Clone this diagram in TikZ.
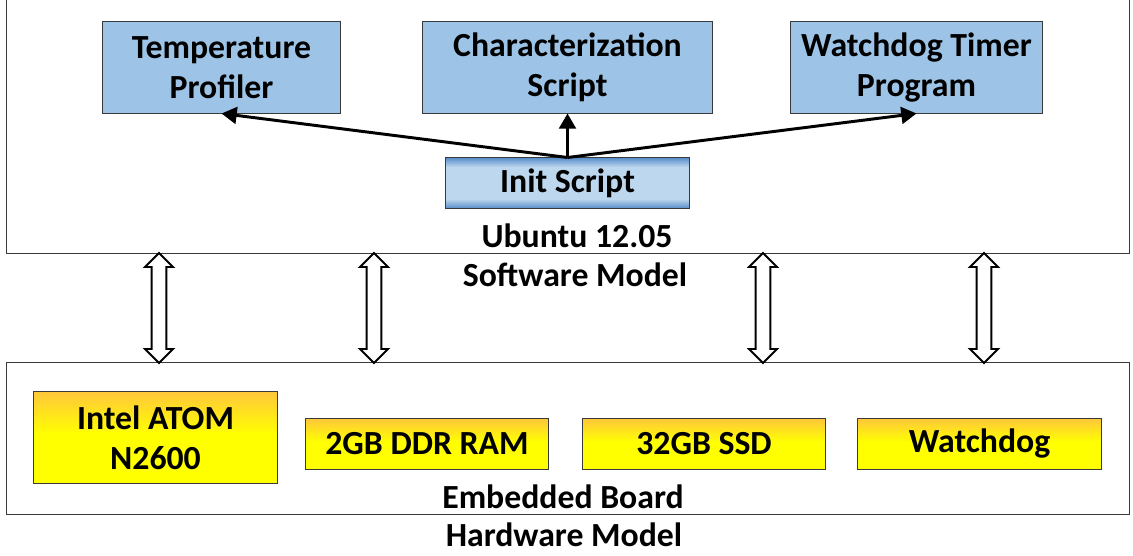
\documentclass[tikz,border=0pt]{standalone}
\usepackage{fontspec}
\setmainfont{Carlito}
\usetikzlibrary{arrows.meta,shapes.arrows}
\definecolor{boxblue}{HTML}{9DC3E6}
\definecolor{paleblue}{HTML}{BDD7EE}
\definecolor{darkblue}{HTML}{5B8FCB}
\definecolor{chipgold}{HTML}{FFC83A}
\definecolor{edgegray}{HTML}{3A3A3A}
\pgfdeclareverticalshading{initshade}{100bp}{color(0bp)=(darkblue); color(25bp)=(darkblue);
  color(34bp)=(paleblue); color(66bp)=(paleblue); color(75bp)=(darkblue); color(100bp)=(darkblue)}
\pgfdeclareverticalshading{chipshade}{100bp}{color(0bp)=(yellow); color(52bp)=(yellow);
  color(75bp)=(chipgold); color(100bp)=(chipgold)}
\begin{document}
\begin{tikzpicture}[
  x=0.025cm, y=-0.025cm,
  every node/.style={font=\fontsize{24}{28.5}\selectfont\bfseries, align=center},
  frame/.style={draw=edgegray, line width=0.7pt, minimum width=28.05cm},
  sbox/.style={draw=edgegray, line width=0.7pt, top color=boxblue, middle color=paleblue, bottom color=boxblue, minimum height=2.275cm},
  ibox/.style={draw=edgegray, line width=0.7pt, shading=initshade, minimum height=1.25cm},
  hbox/.style={draw=edgegray, line width=0.7pt, shading=chipshade},
  lbl/.style={inner sep=0pt},
  call/.style={line width=2.1pt, -{Triangle[length=0.38cm, width=0.42cm]}},
  bus/.style={double arrow, draw, fill=white, line width=1.4pt, shape border rotate=90,
    minimum height=2.75cm, minimum width=0.7cm, inner sep=0.15cm, double arrow head extend=0.16cm}
]
\useasboundingbox (0,0) rectangle (1133,556);
% software side
\node[frame, minimum height=6.45cm] (sw) at (568,124) {};
\node[sbox, minimum width=5.925cm] (tp) at (221.5,67.5) {Temperature\\Profiler};
\node[sbox, minimum width=7.225cm] (cs) at (567.5,67.5) {Characterization\\Script};
\node[sbox, minimum width=6.275cm] (wt) at (916.5,67.5) {Watchdog Timer\\Program};
\node[ibox, minimum width=6.075cm] (init) at (567.5,183) {Init Script};
\node[lbl] (os) at (577,236) {Ubuntu 12.05};
\node[lbl] (swl) at (575,275) {Software Model};
\draw[call] (init.north) -- (tp.south);
\draw[call] (init.north) -- (cs.south);
\draw[call] (init.north) -- (wt.south);
% hardware side
\node[frame, minimum height=3.775cm] (hw) at (568,438.5) {};
\node[hbox, minimum width=6.075cm, minimum height=2.275cm] (cpu) at (155.5,437.5) {Intel ATOM\\N2600};
\node[hbox, minimum width=6.05cm, minimum height=1.25cm] (ram) at (427,444) {2GB DDR RAM};
\node[hbox, minimum width=6.05cm, minimum height=1.25cm] (ssd) at (704,444) {32GB SSD};
\node[hbox, minimum width=6.075cm, minimum height=1.25cm] (wd) at (979.5,444) {Watchdog};
\node[lbl] (board) at (563,497) {Embedded Board};
\node[lbl] (hwl) at (564,535) {Hardware Model};
% links between the two models
\foreach \x/\n in {159/a, 374/b, 763/c, 984/d}
  \node[bus] (bus\n) at (\x,308) {};
\end{tikzpicture}
\end{document}
